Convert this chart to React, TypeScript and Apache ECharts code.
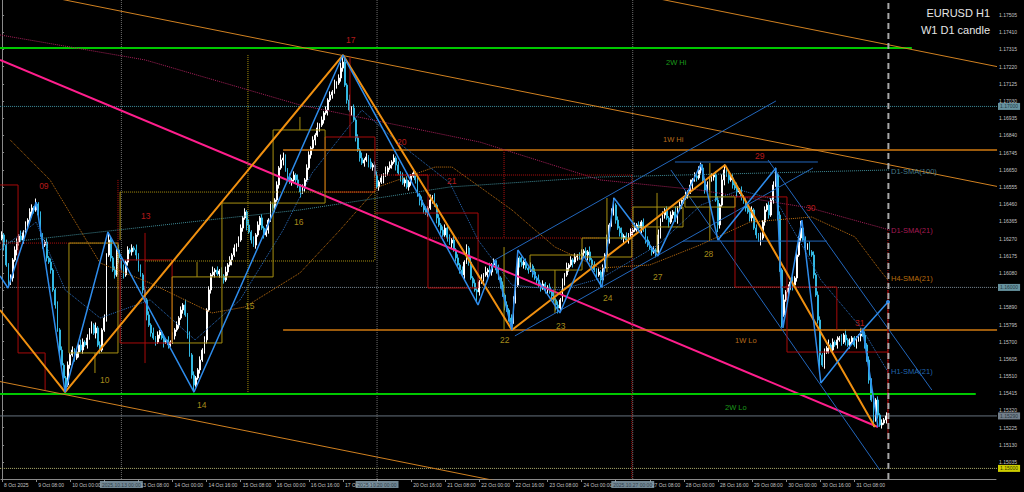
import React, { useEffect, useRef } from "react";
import * as echarts from "echarts";

const FONT = "Liberation Sans, Arial, sans-serif";

// ---- time axis ----
const DAYS = ["8 Oct", "9 Oct", "10 Oct", "13 Oct", "14 Oct", "15 Oct", "16 Oct", "17 Oct", "20 Oct", "21 Oct", "22 Oct", "23 Oct", "24 Oct", "27 Oct", "28 Oct", "29 Oct", "30 Oct", "31 Oct"];
const FIRST_HOUR = 16;
const FUTURE_SLOTS = 51;
const TIME_LABEL_STEP = 16;
const FIRST_LABEL = "8 Oct 2025";

// ---- EURUSD H1 closes, in points (1e-5) ----
const CLOSES = [
  116290,116234,116124,116024,116052,116152,116207,116251,116284,116262,116306,116345,116372,116417,116439,116428,
  116461,116400,116290,116234,116251,116163,116140,116096,115986,115903,115765,115654,115571,115500,115461,115571,
  115627,115654,115610,115643,115682,115654,115698,115682,115721,115765,115792,115748,115776,115682,115654,115765,
  115831,116179,116262,116163,116096,116069,116207,116163,116107,116069,116140,116207,116196,116218,116207,116179,
  116107,116069,115986,115931,115848,115792,115748,115721,115698,115737,115754,115721,115698,115710,115682,115698,
  115732,115765,115792,115831,115875,115903,115848,115737,115627,115516,115461,115500,115544,115599,115654,115710,
  115875,115986,116069,116085,116096,116074,116091,116063,116041,116085,116124,116152,116179,116218,116234,116262,
  116328,116384,116417,116345,116306,116262,116234,116290,116345,116384,116328,116290,116317,116372,116455,116439,
  116483,116566,116660,116704,116715,116649,116610,116582,116594,116621,116594,116560,116527,116549,116594,116660,
  116732,116770,116815,116842,116881,116897,116925,116964,116980,117035,117063,117080,117118,117129,117157,117212,
  117245,117118,117035,116980,116991,116925,116826,116759,116715,116687,116704,116721,116693,116665,116676,116621,
  116555,116582,116605,116621,116638,116660,116676,116693,116715,116676,116632,116605,116577,116594,116555,116582,
  116616,116632,116594,116511,116483,116455,116428,116411,116439,116483,116500,116455,116384,116345,116317,116290,
  116328,116273,116245,116262,116207,116163,116124,116096,116069,116140,116218,116140,116052,116024,115986,115975,
  116030,116052,116069,116085,116096,116085,116124,116140,116096,116052,116013,115958,115903,115875,115831,115809,
  115931,116013,116163,116140,116124,116140,116107,116096,116118,116085,116052,116041,116013,115997,116019,115986,
  116002,115975,115953,115931,115903,115886,115931,116030,116069,116107,116124,116152,116140,116168,116174,116163,
  116190,116201,116179,116196,116152,116124,116096,116069,116085,116041,116107,116179,116262,116345,116417,116455,
  116372,116328,116301,116273,116284,116262,116290,116306,116317,116328,116345,116328,116361,116317,116262,116234,
  116218,116196,116207,116196,116290,116372,116400,116428,116384,116361,116400,116417,116372,116439,116455,116483,
  116494,116511,116527,116566,116594,116616,116605,116649,116660,116594,116538,116566,116594,116610,116621,116483,
  116345,116455,116594,116649,116621,116594,116605,116566,116549,116527,116538,116500,116472,116439,116417,116384,
  116428,116328,116290,116262,116273,116361,116428,116455,116400,116483,116566,116621,116400,116096,115848,115931,
  115975,115997,116030,116013,116052,116179,116273,116328,116262,116218,116234,116196,116179,116069,115958,115820,
  115627,115571,115643,115665,115682,115654,115698,115682,115710,115721,115698,115737,115710,115682,115698,115721,
  115682,115710,115732,115743,115737,115682,115599,115488,115378,115268,115378,115295,115240,115251,115268,115290,
];
const FIRST_OPEN = 116270;
// upper / lower wick lengths in pips, one digit per bar
const UP_WICK_PIPS = [
  "2131212213121221","3121121211212112","1212132121213121","2142121312121213","1212121312112121","2121213121211212",
  "1213121213121212","2121312121213121","1213321212131212","2121312121213123","4213121213121212","2121312121213121",
  "1213121213121212","2121312121213121","1213141213121212","2141312121213121","1213121213121212","2121312121213124",
  "1213121213121212","2121312121213121","1213121232121212","2133121213121212","2121312121241213","1213121412121212",
  "2121312121213121","1213321212121212",
].join("");
const DN_WICK_PIPS = [
  "1312121321212132","1212121212121141","2121312121213121","1212121312121213","2121312121213121","1212121212411212",
  "2121312121213121","1213121213121212","2121312121213121","1213121213121212","2121312121213121","1213121213121212",
  "2121312121213121","1213121213121215","2121312121213124","1213121213121212","2121332121213121","1213121214121212",
  "2121312121213121","1213121213121212","2121312121213121","4213121213121212","2121312121213171","1213121213121212",
  "8121312121213121","1213121214121212",
].join("");

// ---- price axis ----
const PRICE_TICKS = [1.17505, 1.1741, 1.17315, 1.1722, 1.17125, 1.1703, 1.16935, 1.1684, 1.16745, 1.1665, 1.16555, 1.1646, 1.16365, 1.1627, 1.16175, 1.1608, 1.15985, 1.1589, 1.15795, 1.157, 1.15605, 1.1551, 1.15415, 1.1532, 1.15225, 1.1513, 1.15035];
const HIDDEN_PRICE_LABELS = [1.15985]; // covered by the 1.16000 tag
const Y_MIN = 1.149415;
const Y_MAX = 1.17588;
const LAST_PRICE = 1.1529;
const ROUND_LEVELS = [1.17, 1.16, 1.15];

// ---- overlay objects, in [bar index, price] ----
const ORANGE_ZIGZAG = [[-0.94, 1.15875], [29.6, 1.15422], [160, 1.17284], [239.3, 1.15765], [339.3, 1.16676], [409.7, 1.15229]];
const BLUE_ZIGZAG = [[-0.94, 1.16063], [2.8, 1.15997], [16, 1.16472], [29.6, 1.15422], [49.7, 1.16306], [90.1, 1.15422], [160, 1.17284], [223.4, 1.15903], [231.3, 1.16152], [239.3, 1.15765], [242.1, 1.16207], [261.8, 1.15859], [273.1, 1.16174], [281.5, 1.16002], [287.2, 1.16494], [307.8, 1.16174], [328, 1.16682], [336, 1.16262], [363.2, 1.1666], [366.5, 1.15776], [375.4, 1.16372], [384.3, 1.15472], [404, 1.15765], [411.1, 1.15229]];
const BLUE_PROJECTION = [[404, 1.15765], [415.8, 1.15919]];
const BLUE_CHANNELS = [
  [[231.3, 1.16152], [363.2, 1.1703]],
  [[240.7, 1.15732], [380.6, 1.1666]],
  [[315.8, 1.16693], [382.9, 1.16693]],
  [[319.6, 1.16256], [387.1, 1.16256]],
  [[359.5, 1.16704], [436.4, 1.15433]],
  [[313.9, 1.16649], [412, 1.14991]],
];
const ORANGE_CHANNELS = [
  [[-1, 1.1766], [467, 1.16558]],
  [[300, 1.17614], [467, 1.1722]],
  [[-1, 1.1548], [240, 1.14912]],
];
const PINK_TREND = [[-0.94, 1.17257], [411.1, 1.15229]];
const W1_HI = [[131.9, 1.16759], [467, 1.16759]];
const W1_LO = [[131.9, 1.15765], [467, 1.15765]];
const W2_HI = [[-1, 1.17323], [427, 1.17323]];
const W2_LO = [[-1, 1.15411], [457, 1.15411]];

const D1_SMA100 = [[-0.94, 1.16245], [67.1, 1.16334], [139.8, 1.16428], [210.2, 1.16555], [280.6, 1.1661], [416.7, 1.16649]];
const D1_SMA21 = [[-0.94, 1.17395], [67.1, 1.17257], [139.8, 1.17008], [224.3, 1.16803], [280.6, 1.16594], [327.5, 1.16538], [379.2, 1.16439], [416.7, 1.16317]];
const H4_SMA21 = [[3.8, 1.16815], [22.5, 1.16594], [46, 1.16135], [69.5, 1.16024], [98.5, 1.15859], [114, 1.15892], [139.8, 1.1608], [158.6, 1.16317], [176.4, 1.16555], [203.2, 1.16665], [211.2, 1.16665], [239.3, 1.16428], [259.5, 1.16223], [280.6, 1.16107], [304, 1.16124], [327.5, 1.16234], [351, 1.16361], [380, 1.16389], [400.3, 1.16279], [412, 1.16096], [415.8, 1.16041]];
const H1_SMA21 = [[-0.94, 1.16207], [16, 1.16361], [29.6, 1.15986], [46, 1.15831], [69.5, 1.15931], [90.6, 1.1571], [111.7, 1.15931], [131.9, 1.16317], [145.5, 1.16632], [168.9, 1.1698], [184.4, 1.16815], [210.2, 1.16577], [223.4, 1.16262], [239.3, 1.16013], [261.8, 1.15986], [281.5, 1.16052], [307.8, 1.16234], [328, 1.16455], [346.3, 1.16538], [363.2, 1.16483], [375.4, 1.16234], [384.3, 1.16041], [404, 1.15765], [415.8, 1.15533]];

const RED_BOXES = [[55.4, 1.16152, 79.8, 1.15693], [151.6, 1.16831, 175, 1.16527], [344, 1.165, 368.4, 1.16002]];
const RED_PATHS = [
  [[-0.94, 1.16566], [7.5, 1.16566], [7.5, 1.15638], [20.2, 1.15638], [20.2, 1.15433]],
  [[184.4, 1.16621], [199.9, 1.16621], [199.9, 1.15997], [223.4, 1.15997], [223.4, 1.16411], [175, 1.16411]],
  [[67.1, 1.16301], [67.1, 1.15582]],
  [[163.3, 1.17273], [163.3, 1.16831]],
  [[368.4, 1.16002], [368.4, 1.15643], [415.8, 1.15643]],
  [[415.8, 1.15986], [415.8, 1.15157]],
  [[367.4, 1.16002], [391.8, 1.16002], [391.8, 1.15765]],
];
const RED_DOTTED = [
  [[-0.94, 1.16245], [55.4, 1.16245]],
  [[54.4, 1.16594], [54.4, 1.15986]],
  [[175, 1.16621], [295.6, 1.16621]],
  [[295.6, 1.16621], [295.6, 1.14941]],
  [[199.9, 1.16273], [280.6, 1.16273]],
  [[235.6, 1.16759], [235.6, 1.16273]],
  [[415.8, 1.16317], [415.8, 1.15268]],
];
const GOLD_BOXES = [[31.4, 1.16245, 54.4, 1.15638], [79.8, 1.16058, 103.2, 1.15693], [103.2, 1.16466, 127.2, 1.16058], [127.2, 1.1687, 151.6, 1.16466], [247.8, 1.16179, 272.2, 1.16096], [272.2, 1.16273, 295.6, 1.16168], [296.1, 1.16444, 319.6, 1.16334], [320.5, 1.165, 344, 1.16444]];
const GOLD_PATHS = [
  [[43.6, 1.15638], [43.6, 1.15527]],
  [[55.4, 1.16527], [55.4, 1.16262]],
  [[91.5, 1.1614], [91.5, 1.16058]],
  [[139.8, 1.16942], [139.8, 1.1687]],
  [[235.6, 1.16223], [235.6, 1.15765]],
  [[259.5, 1.16096], [259.5, 1.15859]],
  [[283.9, 1.16494], [283.9, 1.16085]],
  [[307.4, 1.16522], [307.4, 1.16179]],
  [[332.2, 1.16687], [332.2, 1.16262]],
];
const GOLD_DOTTED = [
  [[55.4, 1.16527], [175, 1.16527]],
  [[67.1, 1.16146], [175, 1.16146]],
  [[115.4, 1.17284], [115.4, 1.15422]],
  [[175, 1.16621], [175, 1.16146]],
];

const WEEK_STARTS = [56, 176, 296];
const WEEK_LABELS = ["2025.10.13 00:00", "2025.10.20 00:00", "2025.10.27 00:00"];
const NEXT_WEEK = 416;

const LABELS = [
  { t: "09", x: 17.4, p: 1.1656, c: "#e02020", s: 8.5 },
  { t: "13", x: 65.2, p: 1.16395, c: "#e02020", s: 8.5 },
  { t: "17", x: 161.4, p: 1.17367, c: "#e02020", s: 8.5 },
  { t: "20", x: 185.4, p: 1.16803, c: "#e02020", s: 8.5 },
  { t: "21", x: 208.8, p: 1.16588, c: "#e02020", s: 8.5 },
  { t: "29", x: 353.4, p: 1.16726, c: "#e02020", s: 8.5 },
  { t: "30", x: 377.3, p: 1.16439, c: "#e02020", s: 8.5 },
  { t: "31", x: 400.3, p: 1.15803, c: "#e02020", s: 8.5 },
  { t: "10", x: 46, p: 1.15489, c: "#d0b020", s: 8.5 },
  { t: "14", x: 91.5, p: 1.1535, c: "#d0b020", s: 8.5 },
  { t: "15", x: 114, p: 1.15897, c: "#d0b020", s: 8.5 },
  { t: "16", x: 137, p: 1.16361, c: "#d0b020", s: 8.5 },
  { t: "22", x: 233.7, p: 1.1571, c: "#d0b020", s: 8.5 },
  { t: "23", x: 260, p: 1.15787, c: "#d0b020", s: 8.5 },
  { t: "24", x: 282, p: 1.15942, c: "#d0b020", s: 8.5 },
  { t: "27", x: 305.5, p: 1.16058, c: "#d0b020", s: 8.5 },
  { t: "28", x: 329.4, p: 1.16185, c: "#d0b020", s: 8.5 },
  { t: "2W Hi", x: 311.6, p: 1.1724, c: "#20c020", s: 7.5 },
  { t: "2W Lo", x: 339.3, p: 1.15334, c: "#20c020", s: 7.5 },
  { t: "1W Hi", x: 310.2, p: 1.16815, c: "#e08a20", s: 7.5 },
  { t: "1W Lo", x: 344, p: 1.15704, c: "#e08a20", s: 7.5 },
  { t: "D1-SMA(100)", x: 417.2, p: 1.16643, c: "#5a9aa8", s: 7.5 },
  { t: "D1-SMA(21)", x: 417.2, p: 1.16317, c: "#d0206a", s: 7.5 },
  { t: "H4-SMA(21)", x: 417.2, p: 1.16052, c: "#e08a10", s: 7.5 },
  { t: "H1-SMA(21)", x: 417.2, p: 1.15533, c: "#2a80d8", s: 7.5 },
];

const POINT = 0.00001;

function buildCategories() {
  const cats: string[] = [];
  DAYS.forEach((d, di) => {
    for (let h = di === 0 ? FIRST_HOUR : 0; h < 24; h++) cats.push(`${d} ${String(h).padStart(2, "0")}:00`);
  });
  for (let k = 0; k < FUTURE_SLOTS; k++) cats.push("");
  return cats;
}

function buildCandles() {
  return CLOSES.map((c, i) => {
    const o = i === 0 ? FIRST_OPEN : CLOSES[i - 1];
    const hi = Math.max(o, c) + Number(UP_WICK_PIPS[i]) * 10;
    const lo = Math.min(o, c) - Number(DN_WICK_PIPS[i]) * 10;
    return [o * POINT, c * POINT, lo * POINT, hi * POINT];
  });
}

const seg = (pts: number[][], color: string, width = 1, type: any = "solid", z = 4) => ({
  type: "line",
  xAxisIndex: 1,
  yAxisIndex: 0,
  data: pts,
  symbol: "none",
  silent: true,
  clip: true,
  z,
  lineStyle: { color, width, type },
});
const box = (b: number[]) => [[b[0], b[1]], [b[2], b[1]], [b[2], b[3]], [b[0], b[3]], [b[0], b[1]]];

export default function App() {
  const ref = useRef<HTMLDivElement>(null);
  useEffect(() => {
    if (!ref.current) return;
    const chart = echarts.init(ref.current, undefined, { renderer: "svg" });
    const cats = buildCategories();
    const xMax = cats.length - 0.5;
    // labels that sit fully under a week-separator tag are not visible in MT4
    const underWeekTag = (i: number) => WEEK_STARTS.some((w) => w - i >= 0 && w - i <= 8);
    const labelEvery = (i: number) => i % TIME_LABEL_STEP === 0 && i < CLOSES.length && !underWeekTag(i);
    const tickEvery = (i: number) => i % TIME_LABEL_STEP === 0 && i < CLOSES.length;
    const axisText = { color: "#c4c4c4", fontSize: 5, fontFamily: FONT };
    const tagStyle = { fontSize: 5, fontFamily: FONT, padding: [1, 2, 1, 2] };

    const levelColors = [
      { line: "#3f8f9f", bg: "#7fb6c6", fg: "#102028" },
      { line: "#7a8894", bg: "#7fb6c6", fg: "#102028" },
      { line: "#b0b070", bg: "#ffff00", fg: "#000000" },
    ];

    const series: any[] = [
      {
        type: "candlestick",
        xAxisIndex: 0,
        yAxisIndex: 0,
        data: buildCandles(),
        barWidth: "62%",
        z: 2,
        itemStyle: { color: "#ffffff", color0: "#33b8e2", borderColor: "#ffffff", borderColor0: "#33b8e2", borderWidth: 1 },
      },
      // round-number levels and the bid line
      ...ROUND_LEVELS.map((v, k) => seg([[-1, v], [467, v]], levelColors[k].line, 1, "dotted", 1)),
      seg([[-1, LAST_PRICE], [467, LAST_PRICE]], "#66727e", 1, "solid", 1),
      // week separators
      ...WEEK_STARTS.map((w) => seg([[w, Y_MIN], [w, Y_MAX]], "#6e6e6e", 1, "dotted", 1)),
      seg([[NEXT_WEEK, Y_MIN], [NEXT_WEEK, Y_MAX]], "#a8a8a8", 2, [6, 4], 7),
      seg(PINK_TREND, "#ff1e8c", 2),
      seg(W2_HI, "#00c800", 2),
      seg(W2_LO, "#00c800", 2),
      seg(W1_HI, "#d07a10", 1.5),
      seg(W1_LO, "#d07a10", 1.5),
      ...ORANGE_CHANNELS.map((l) => seg(l, "#d08020", 1)),
      ...BLUE_CHANNELS.map((l) => seg(l, "#2266bb", 1)),
      seg(D1_SMA100, "#3f8a96", 1, "dotted"),
      seg(D1_SMA21, "#a8205a", 1, "dotted"),
      seg(H4_SMA21, "#c07010", 1, "dotted"),
      seg(H1_SMA21, "#2a6fc0", 1, "dotted"),
      ...RED_BOXES.map((b) => seg(box(b), "#a80a0a", 1)),
      ...RED_PATHS.map((p) => seg(p, "#a80a0a", 1)),
      ...RED_DOTTED.map((p) => seg(p, "#b01010", 1, "dotted")),
      ...GOLD_BOXES.map((b) => seg(box(b), "#a89010", 1)),
      ...GOLD_PATHS.map((p) => seg(p, "#a89010", 1)),
      ...GOLD_DOTTED.map((p) => seg(p, "#a89010", 1, "dotted")),
      seg(ORANGE_ZIGZAG, "#f09010", 2, "solid", 5),
      seg(BLUE_ZIGZAG, "#2e8ceb", 1.5, "solid", 6),
      {
        ...seg(BLUE_PROJECTION, "#2e8ceb", 1.5, "solid", 6),
        symbol: "circle",
        symbolSize: (_v: any, p: any) => (p.dataIndex === 1 ? 4 : 0),
        itemStyle: { color: "#2e8ceb" },
      },
      // object text labels
      {
        type: "scatter",
        xAxisIndex: 1,
        yAxisIndex: 0,
        symbolSize: 0,
        silent: true,
        z: 8,
        data: LABELS.map((l) => ({ name: l.t, value: [l.x, l.p], label: { color: l.c, fontSize: l.s } })),
        label: { show: true, position: "inside", align: "left", verticalAlign: "middle", formatter: "{b}", fontFamily: FONT },
      },
      // price tags on the right scale
      {
        type: "scatter",
        xAxisIndex: 1,
        yAxisIndex: 0,
        symbolSize: 0,
        silent: true,
        clip: false,
        z: 9,
        data: [
          ...ROUND_LEVELS.map((v, k) => ({
            name: v.toFixed(5),
            value: [xMax, v],
            label: { backgroundColor: levelColors[k].bg, color: levelColors[k].fg },
          })),
          { name: LAST_PRICE.toFixed(5), value: [xMax, LAST_PRICE], label: { backgroundColor: "#8e9eac", color: "#102028" } },
        ],
        label: { show: true, position: "right", distance: 2, formatter: "{b}", ...tagStyle },
      },
      // time tags of the week separators
      {
        type: "scatter",
        xAxisIndex: 1,
        yAxisIndex: 0,
        symbolSize: 0,
        silent: true,
        clip: false,
        z: 9,
        data: WEEK_STARTS.map((w, k) => ({ name: WEEK_LABELS[k], value: [w, Y_MIN] })),
        label: { show: true, position: "bottom", distance: 2, formatter: "{b}", backgroundColor: "#8fa9b8", color: "#1a2a34", ...tagStyle },
      },
    ];

    chart.setOption({
      animation: false,
      backgroundColor: "#000000",
      title: [
        { text: "EURUSD H1", right: 29, top: 2, textStyle: { color: "#e6e6e6", fontSize: 11, fontWeight: "normal", fontFamily: FONT } },
        { text: "W1 D1 candle", right: 29, top: 19, textStyle: { color: "#e6e6e6", fontSize: 11, fontWeight: "normal", fontFamily: FONT } },
      ],
      grid: { left: 1, right: 28, top: 0, bottom: 13 },
      xAxis: [
        {
          type: "category",
          data: cats,
          boundaryGap: true,
          axisLine: { show: true, lineStyle: { color: "#8a8a8a" } },
          axisTick: { show: true, interval: tickEvery, alignWithLabel: true, length: 3, lineStyle: { color: "#8a8a8a" } },
          axisLabel: {
            ...axisText,
            interval: labelEvery,
            align: "left",
            margin: 3,
            padding: [0, 0, 0, 2],
            formatter: (v: string, i: number) => (i === 0 ? FIRST_LABEL : v),
          },
          splitLine: { show: false },
        },
        { type: "value", min: -0.5, max: xMax, show: false, splitLine: { show: false } },
      ],
      yAxis: [
        {
          type: "value",
          position: "right",
          min: Y_MIN,
          max: Y_MAX,
          scale: true,
          axisLine: { show: true, lineStyle: { color: "#8a8a8a" } },
          axisTick: { show: true, customValues: PRICE_TICKS, length: 2, lineStyle: { color: "#8a8a8a" } },
          axisLabel: {
            ...axisText,
            customValues: PRICE_TICKS.filter((v) => !HIDDEN_PRICE_LABELS.includes(v)),
            margin: 3,
            formatter: (v: number) => v.toFixed(5),
          },
          splitLine: { show: false },
        },
      ],
      series,
    });
    return () => chart.dispose();
  }, []);
  return <div ref={ref} style={{ position: "fixed", left: 0, top: 0, width: 1024, height: 492, background: "#000" }} />;
}
